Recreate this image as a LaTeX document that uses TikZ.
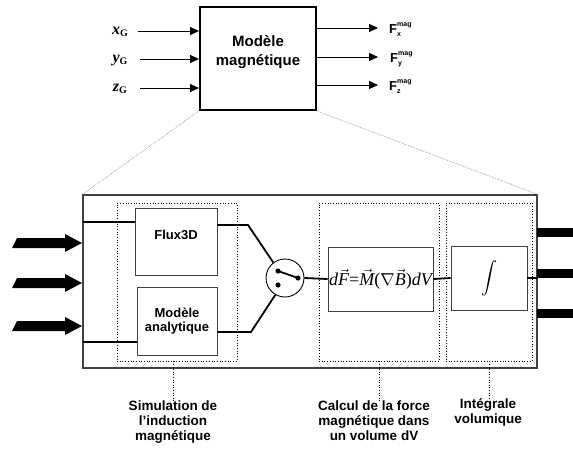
\documentclass[tikz,border=0pt]{standalone}
\usepackage{fontspec}
\setmainfont{Liberation Sans}
\newfontfamily\tnr{Liberation Serif}
\usepackage{graphicx}
\usetikzlibrary{arrows.meta}
\newcommand\fsz[2]{\fontsize{#1}{#2}\selectfont}
\newcommand\tvec[1]{$\vec{\mbox{\tnr\itshape #1}}$}
\newcommand\fmag[1]{F\rlap{\raisebox{6.5pt}{\fsz{7}{7}\bfseries mag}}\raisebox{-3pt}{\fsz{7}{7}\bfseries #1}}
\begin{document}
\begin{tikzpicture}[x=1pt,y=-1pt,
  conn/.style={line width=1.8pt},
  thinarrow/.style={line width=0.9pt,-{Triangle[length=9pt,width=8pt]}},
  blk/.style={draw=black!75,line width=0.9pt,inner sep=0pt},
  dotbox/.style={draw,dotted,line width=0.7pt,inner sep=0pt},
  captxt/.style={font=\bfseries\fsz{13.5}{15},align=center,inner sep=0pt,anchor=north},
  zoomline/.style={gray,densely dotted,line width=0.6pt},
  lead/.style={dotted,line width=0.6pt},
  outbar/.style={fill=black,minimum width=36pt,minimum height=9pt,inner sep=0pt,anchor=west},
  inlab/.style={anchor=base,inner sep=0pt,font=\tnr\fsz{16}{16}\bfseries\itshape},
  outlab/.style={anchor=base west,inner sep=0pt,font=\bfseries\fsz{13}{13}}
]
\useasboundingbox (0,0) rectangle (573,450);

% top model
\node[draw,line width=2pt,minimum width=116pt,minimum height=103pt,inner sep=0pt] (model) at (258,58.5) {};
\node[font=\bfseries\fsz{15}{19},align=center,inner sep=0pt] (modeltxt) at (258,52) {Modèle\\magnétique};

\coordinate (xs) at (138,31);
\coordinate (ys) at (140,59);
\coordinate (zs) at (140,88);
\draw[thinarrow] (xs) -- (xs -| model.west);
\draw[thinarrow] (ys) -- (ys -| model.west);
\draw[thinarrow] (zs) -- (zs -| model.west);
\node[inlab] (xg) at (120,34) {x\raisebox{-2pt}{\upshape\fsz{10}{10}G}};
\node[inlab] (yg) at (120,62) {y\raisebox{-2pt}{\upshape\fsz{10}{10}G}};
\node[inlab] (zg) at (120,91) {z\raisebox{-2pt}{\upshape\fsz{10}{10}G}};

\coordinate (fxe) at (378,28);
\coordinate (fye) at (378,57);
\coordinate (fze) at (378,85);
\draw[thinarrow] (model.east |- fxe) -- (fxe);
\draw[thinarrow] (model.east |- fye) -- (fye);
\draw[thinarrow] (model.east |- fze) -- (fze);
\node[outlab] (fx) at (389,33) {\fmag{x}};
\node[outlab] (fy) at (390,62) {\fmag{y}};
\node[outlab] (fz) at (389,90) {\fmag{z}};

% big box
\node[draw=black!75,line width=1.3pt,minimum width=454pt,minimum height=173pt,inner sep=0pt] (big) at (310,281.5) {};
\draw[zoomline] (model.south west) -- (big.north west);
\draw[zoomline] (model.south east) -- (big.north east);

% dotted groups
\node[dotbox,minimum width=120pt,minimum height=158pt] (d1) at (177,282) {};
\node[dotbox,minimum width=120pt,minimum height=158pt] (d2) at (379,282) {};
\node[dotbox,minimum width=86pt,minimum height=158pt] (d3) at (489,282) {};

% inner blocks
\node[blk,minimum width=82pt,minimum height=67pt] (flux) at (176,241.5) {};
\node[font=\bfseries\fsz{13}{15},inner sep=0pt] (fluxt) at (176,235) {Flux3D};
\node[blk,minimum width=80pt,minimum height=68pt,font=\bfseries\fsz{13}{14},align=center] (analyt) at (177,321) {Modèle\\analytique};
\node[blk,minimum width=105pt,minimum height=64pt,font=\tnr\fsz{18}{18}] (form) at (380.5,279)
  {\itshape d\tvec{F}\upshape=\tvec{M}($\nabla$\tvec{B})\itshape dV};
\node[blk,minimum width=76pt,minimum height=64pt] (intg) at (489,278) {\scalebox{1.6}{$\displaystyle\int$}};

% switch
\node[draw,circle,minimum size=38pt,inner sep=0pt,line width=0.9pt] (sw) at (285,278) {};
\coordinate (p1) at (278,271);
\coordinate (p2) at (298,278);
\coordinate (p3) at (278,285);
\fill (p1) circle (2.6pt);
\fill (p2) circle (2.6pt);
\fill (p3) circle (2.6pt);
\draw[conn] (p1) -- (p2);

% connectors
\coordinate (i1) at (83,222);
\coordinate (i2) at (83,342);
\draw[conn] (i1) -- (i1 -| flux.west);
\draw[conn] (i2) -- (i2 -| analyt.west);
\coordinate (b1) at (248,225);
\coordinate (b2) at (251,332);
\draw[conn] (b1 -| flux.east) -- (b1) -- (sw.127);
\draw[conn] (b2 -| analyt.east) -- (b2) -- (sw.240);
\draw[conn] (sw.east) -- (form.west);
\draw[conn] (form.east) -- (intg.west);
\draw[conn] (intg.east) -- (intg.east -| big.east);

% input big arrows
\foreach \yy in {243,283,326}{
  \fill (12,\yy+5) -- (17,\yy-5) -- (65,\yy-5) -- (65,\yy-9) -- (82,\yy) -- (65,\yy+9) -- (65,\yy+5) -- cycle;
}
% output bars
\node[outbar] (o1) at (537,232.5) {};
\node[outbar] (o2) at (537,273.5) {};
\node[outbar] (o3) at (537,313.5) {};

% captions
\node[captxt] (lab1) at (173,400.5) {Simulation de\\l’induction\\magnétique};
\node[captxt] (lab2) at (374,400.5) {Calcul de la force\\magnétique dans\\un volume dV};
\node[captxt] (lab3) at (488,398) {Intégrale\\volumique};
\draw[lead] (lab1.north |- d1.south) -- (lab1.north);
\draw[lead] (d2.south) -- (d2.south |- lab2.north);
\draw[lead] (d3.south) -- (d3.south |- lab3.north);
\end{tikzpicture}
\end{document}
